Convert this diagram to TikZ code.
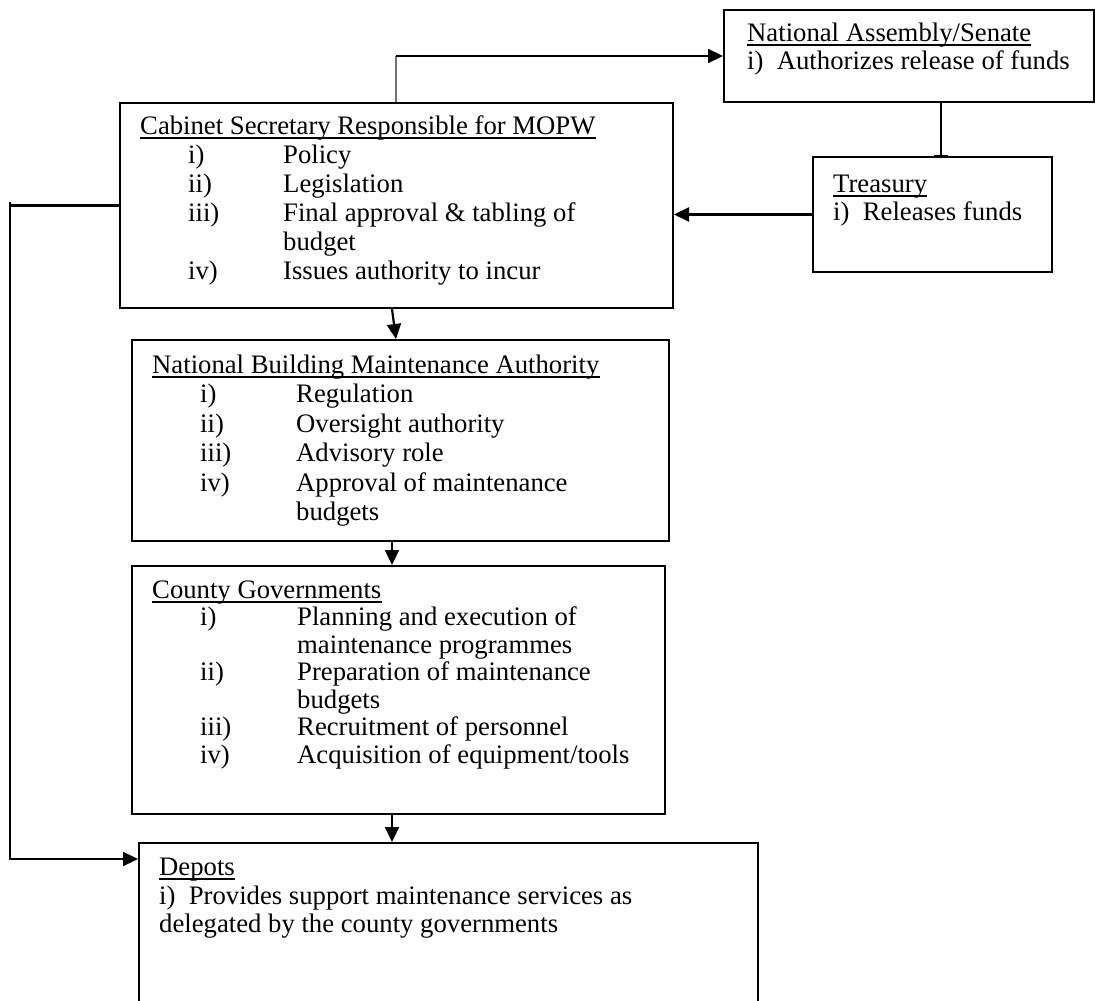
\documentclass[tikz,border=0pt]{standalone}
\usepackage{fontspec}
\setmainfont{Liberation Serif}
\usetikzlibrary{arrows.meta}
\begin{document}
\begin{tikzpicture}[x=1pt,y=-1pt,
  box/.style={draw, line width=2pt, rectangle, inner sep=0pt, anchor=north west},
  txt/.style={anchor=base west, inner sep=0pt, font=\fontsize{26.7pt}{30pt}\selectfont},
  ul/.style={line width=1.8pt},
  conn/.style={line width=2.2pt},
  arr/.style={conn, -{Triangle[length=15pt,width=14pt]}},
  thinconn/.style={line width=1.3pt, draw=black!55}]
\useasboundingbox (0,0) rectangle (1095,1001);
\fill[white] (0,0) rectangle (1095,1001);
\clip (0,0) rectangle (1095,1001);

% boxes (the Depots box runs on past the lower edge)
\node[box, minimum width=370pt, minimum height=92pt]  (NA) at (723,9)   {};
\node[box, minimum width=239pt, minimum height=115pt] (TR) at (812,156) {};
\node[box, minimum width=553pt, minimum height=205pt] (CS) at (119,102) {};
\node[box, minimum width=537pt, minimum height=201pt] (NB) at (131,339) {};
\node[box, minimum width=533pt, minimum height=248pt] (CG) at (131,565) {};
\node[box, minimum width=619pt, minimum height=200pt] (DP) at (138,842) {};

% National Assembly / Senate
\node[txt] (naT) at (747,41) {National Assembly/Senate};
\node[txt] (na1) at (747,69) {i)\hspace{0.5em}Authorizes release of funds};
\draw[ul] ([yshift=-4pt]naT.base west) -- ([yshift=-4pt]naT.base east);

% Treasury
\node[txt] (trT) at (833,192) {Treasury};
\node[txt] (tr1) at (833,220) {i)\hspace{0.5em}Releases funds};
\draw[ul] ([yshift=-4pt]trT.base west) -- ([yshift=-4pt]trT.base east);

% Cabinet Secretary
\node[txt] (csT) at (140,134) {Cabinet Secretary Responsible for MOPW};
\draw[ul] ([yshift=-4pt]csT.base west) -- ([yshift=-4pt]csT.base east);
\node[txt] (csn1) at (188,163) {i)};
\node[txt] (csn2) at (188,192) {ii)};
\node[txt] (csn3) at (188,221) {iii)};
\node[txt] (csn4) at (188,279) {iv)};
\node[txt] (csi1) at (283,163) {Policy};
\node[txt] (csi2) at (283,192) {Legislation};
\node[txt] (csi3) at (283,221) {Final approval \& tabling of};
\node[txt] (csi3b) at (283,250) {budget};
\node[txt] (csi4) at (283,279) {Issues authority to incur};

% National Building Maintenance Authority
\node[txt] (nbT) at (152,373) {National Building Maintenance Authority};
\draw[ul] ([yshift=-4pt]nbT.base west) -- ([yshift=-4pt]nbT.base east);
\node[txt] (nbn1) at (200,402.5) {i)};
\node[txt] (nbn2) at (200,432) {ii)};
\node[txt] (nbn3) at (200,461.5) {iii)};
\node[txt] (nbn4) at (200,491) {iv)};
\node[txt] (nbi1) at (296,402.5) {Regulation};
\node[txt] (nbi2) at (296,432) {Oversight authority};
\node[txt] (nbi3) at (296,461.5) {Advisory role};
\node[txt] (nbi4) at (296,491) {Approval of maintenance};
\node[txt] (nbi4b) at (296,520.5) {budgets};

% County Governments
\node[txt] (cgT) at (152,598) {County Governments};
\draw[ul] ([yshift=-4pt]cgT.base west) -- ([yshift=-4pt]cgT.base east);
\node[txt] (cgn1) at (200,625.5) {i)};
\node[txt] (cgn2) at (200,680.5) {ii)};
\node[txt] (cgn3) at (200,735.5) {iii)};
\node[txt] (cgn4) at (200,763) {iv)};
\node[txt] (cgi1) at (297,625.5) {Planning and execution of};
\node[txt] (cgi1b) at (297,653) {maintenance programmes};
\node[txt] (cgi2) at (297,680.5) {Preparation of maintenance};
\node[txt] (cgi2b) at (297,708) {budgets};
\node[txt] (cgi3) at (297,735.5) {Recruitment of personnel};
\node[txt] (cgi4) at (297,763) {Acquisition of equipment/tools};

% Depots
\node[txt] (dpT) at (159,875) {Depots};
\draw[ul] ([yshift=-4pt]dpT.base west) -- ([yshift=-4pt]dpT.base east);
\node[txt] (dp1) at (159,904) {i)\hspace{0.5em}Provides support maintenance services as};
\node[txt] (dp2) at (159,932) {delegated by the county governments};

% connectors
\coordinate (csTop) at ([xshift=277pt]CS.north west);
\coordinate (elbow) at (csTop |- NA.west);
\draw[thinconn] (csTop) -- (elbow);
\draw[arr] (elbow) -- (NA.west);

\coordinate (naOut) at ([xshift=218pt]NA.south west);
\coordinate (trIn) at (naOut |- TR.north);
\draw[conn, -{Bar[width=14pt,line width=1.5pt]}] (naOut) -- (trIn);

\draw[arr] (TR.west) -- (TR.west -| CS.east);

\coordinate (dpIn) at ([yshift=-17pt]DP.north west);
\coordinate (leftRail) at ([xshift=-109pt]CS.west);
\draw[conn] (leftRail) -- ++(0,-4);
\draw[arr] (CS.west) -- (leftRail) |- (dpIn);

\draw[arr] ([xshift=273pt]CS.south west) -- ([xshift=265pt]NB.north west);
\draw[arr] ([xshift=261pt]NB.south west) -- ([xshift=261pt]CG.north west);
\draw[arr] ([xshift=261pt]CG.south west) -- ([xshift=254pt]DP.north west);
\end{tikzpicture}
\end{document}
